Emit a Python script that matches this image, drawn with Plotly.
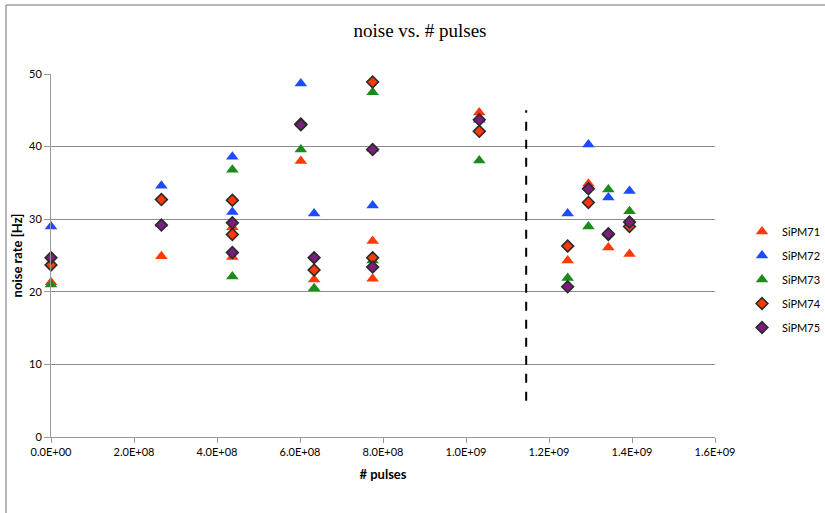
import plotly.graph_objects as go

# ---- data ----
x71 = [0.0, 2.66e8, 4.37e8, 4.37e8, 6.02e8, 6.34e8, 7.75e8, 7.75e8, 1.032e9, 1.245e9, 1.295e9, 1.343e9, 1.394e9]
y71 = [21.3, 24.9, 28.9, 24.8, 38.0, 21.7, 27.0, 21.8, 44.7, 24.3, 34.9, 26.1, 25.2]

x72 = [0.0, 2.66e8, 4.37e8, 4.37e8, 6.02e8, 6.34e8, 7.75e8, 7.75e8, 1.032e9, 1.245e9, 1.295e9, 1.343e9, 1.394e9]
y72 = [29.0, 34.6, 38.6, 31.0, 48.7, 30.8, 39.7, 31.9, 43.7, 30.8, 40.3, 33.0, 33.9]

x73 = [0.0, 2.66e8, 4.37e8, 4.37e8, 6.02e8, 6.34e8, 7.75e8, 7.75e8, 1.032e9, 1.245e9, 1.295e9, 1.343e9, 1.394e9]
y73 = [21.0, 29.3, 36.8, 22.1, 39.6, 20.5, 47.5, 24.3, 38.1, 21.9, 29.0, 34.1, 31.1]

x74 = [0.0, 2.66e8, 4.37e8, 4.37e8, 6.02e8, 6.34e8, 7.75e8, 7.75e8, 1.032e9, 1.245e9, 1.295e9, 1.343e9, 1.394e9]
y74 = [23.7, 32.7, 32.6, 27.9, 43.1, 23.0, 48.9, 24.7, 42.1, 26.3, 32.3, 27.9, 29.0]

x75 = [0.0, 2.66e8, 4.37e8, 4.37e8, 6.02e8, 6.34e8, 7.75e8, 7.75e8, 1.032e9, 1.245e9, 1.295e9, 1.343e9, 1.394e9]
y75 = [24.7, 29.2, 29.5, 25.4, 43.0, 24.7, 39.6, 23.4, 43.7, 20.7, 34.2, 28.0, 29.6]

divider_x = [1.145e9, 1.145e9]
divider_y = [5, 45]

x_ticks = [0, 2e8, 4e8, 6e8, 8e8, 1.0e9, 1.2e9, 1.4e9, 1.6e9]
x_tick_labels = ["0.0E+00", "2.0E+08", "4.0E+08", "6.0E+08", "8.0E+08",
                 "1.0E+09", "1.2E+09", "1.4E+09", "1.6E+09"]
y_ticks = [0, 10, 20, 30, 40, 50]

series = [
    ("SiPM71", x71, y71, "triangle-up", "#FF3A0A", None),
    ("SiPM72", x72, y72, "triangle-up", "#1E4BFF", None),
    ("SiPM73", x73, y73, "triangle-up", "#1A8C1A", None),
    ("SiPM74", x74, y74, "diamond", "#FF3A0A", "#2a2a2a"),
    ("SiPM75", x75, y75, "diamond", "#7A1E7E", "#2a2a2a"),
]

fig = go.Figure()

fig.add_trace(go.Scatter(
    x=divider_x, y=divider_y, mode="lines",
    line=dict(color="black", width=2, dash="dash"),
    showlegend=False, hoverinfo="skip"))

for name, xs, ys, sym, col, outline in series:
    if outline:
        marker = dict(symbol=sym, size=9, color=col, line=dict(color=outline, width=1.6))
    else:
        marker = dict(symbol=sym, size=11, color=col, line=dict(width=0))
    fig.add_trace(go.Scatter(x=xs, y=ys, mode="markers", name=name,
                             marker=marker, legendgroup=name, cliponaxis=False))

FONT = "Lato, Carlito, Calibri, sans-serif"

fig.update_layout(
    width=825, height=513,
    margin=dict(l=51, r=110, t=74, b=76, autoexpand=False),
    paper_bgcolor="white", plot_bgcolor="white",
    title=dict(text="noise vs. # pulses", x=420 / 825, xref="container", xanchor="center",
               y=1 - 30 / 513, yref="container", yanchor="middle",
               font=dict(family="Liberation Serif, Times New Roman, serif", size=19, color="black")),
    font=dict(family=FONT, size=11, color="black"),
    legend=dict(x=742 / 825, y=1 - 217 / 513, xref="container", yref="container",
                xanchor="left", yanchor="top",
                font=dict(family=FONT, size=11, color="black"),
                tracegroupgap=5, itemwidth=30, bgcolor="rgba(0,0,0,0)"),
    showlegend=True,
)

fig.update_xaxes(
    range=[0, 1.6e9], tickvals=x_ticks, ticktext=x_tick_labels,
    showgrid=False, zeroline=False,
    showline=True, linecolor="#9a9a9a", linewidth=1,
    ticks="outside", ticklen=5, tickcolor="#9a9a9a",
    tickfont=dict(family=FONT, size=11, color="black"),
    title=dict(text="<b># pulses</b>", font=dict(family=FONT, size=13, color="black"), standoff=12),
)
fig.update_yaxes(
    range=[0, 50], tickvals=y_ticks,
    showgrid=True, gridcolor="#8c8c8c", gridwidth=1, zeroline=False,
    showline=True, linecolor="#9a9a9a", linewidth=1,
    ticks="outside", ticklen=6, tickcolor="#9a9a9a",
    tickfont=dict(family=FONT, size=11, color="black"),
    title=dict(text="<b>noise rate [Hz]</b>", font=dict(family=FONT, size=13, color="black"), standoff=3),
)

# chart-area border (top and left edges visible in reference)
fig.add_shape(type="line", xref="paper", yref="paper",
              x0=-45 / 664, x1=(825 - 51) / 664, y0=1 + 69 / 363, y1=1 + 69 / 363,
              line=dict(color="#a0a0a0", width=1.5))
fig.add_shape(type="line", xref="paper", yref="paper",
              x0=-45 / 664, x1=-45 / 664, y0=1 + 69 / 363, y1=-80 / 363,
              line=dict(color="#a0a0a0", width=1.5))

fig.write_html("out.html")
